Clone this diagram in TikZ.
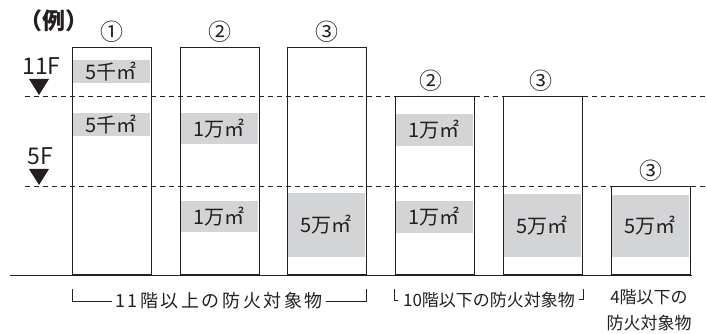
\documentclass[tikz,border=0pt]{standalone}
\usepackage{fontspec}
\setmainfont{Noto Sans CJK JP}
\newfontfamily\widejp[LetterSpace=14]{Noto Sans CJK JP}
\usetikzlibrary{positioning}
\definecolor{bandgray}{RGB}{211,212,214}
\definecolor{ink}{RGB}{35,31,32}

\begin{document}
\begin{tikzpicture}[x=1pt,y=-1pt,
    bldg/.style={draw=ink,line width=0.8pt,minimum width=78.5pt,anchor=south west,inner sep=0pt},
    band/.style={fill=bandgray,minimum width=78pt,inner sep=0pt,text=ink,font=\fontsize{20}{20}\selectfont},
    num/.style={text=ink,font=\fontsize{23}{23}\selectfont,inner sep=0pt},
    floorlbl/.style={text=ink,font=\fontsize{23}{23}\selectfont,inner sep=0pt},
    level/.style={draw=ink,line width=0.7pt,dash pattern=on 5pt off 4pt},
    brk/.style={draw=ink,line width=0.7pt},
    lbl/.style={text=ink,inner sep=3pt}]
  \useasboundingbox (0,0) rectangle (707,334);

  % grey floor areas
  \node[band,minimum height=23pt] (a1u) at (111.25,71.5) {5千㎡};
  \node[band,minimum height=23pt] (a1l) at (111.25,124.5) {5千㎡};
  \node[band,minimum height=31pt] (a2u) at (219.25,128.5) {1万㎡};
  \node[band,minimum height=31pt] (a2l) at (219.25,216.5) {1万㎡};
  \node[band,minimum height=64pt] (a3) at (326.25,225) {5万㎡};
  \node[band,minimum height=32pt] (a4u) at (434.25,130) {1万㎡};
  \node[band,minimum height=32pt] (a4l) at (434.25,217) {1万㎡};
  \node[band,minimum height=63pt] (a5) at (542.25,225.5) {5万㎡};
  \node[band,minimum height=62pt] (a6) at (650.25,226) {5万㎡};

  % buildings
  \node[bldg,minimum height=227pt] (b1) at (72,275) {};
  \node[bldg,minimum height=227pt] (b2) at (180,275) {};
  \node[bldg,minimum height=227pt] (b3) at (287,275) {};
  \node[bldg,minimum height=178pt] (b4) at (395,275) {};
  \node[bldg,minimum height=178pt] (b5) at (503,275) {};
  \node[bldg,minimum height=88pt] (b6) at (611,275) {};

  \node[num,above=5pt of b1] (n1) {①};
  \node[num,above=5pt of b2] (n2) {②};
  \node[num,above=5pt of b3] (n3) {③};
  \node[num,above=5pt of b4,xshift=-4pt] (n4) {②};
  \node[num,above=5pt of b5,xshift=-2pt] (n5) {③};
  \node[num,above=5pt of b6] (n6) {③};

  % floor levels
  \coordinate (u0) at (25,96.5);
  \coordinate (u1) at (707,96.5);
  \coordinate (m0) at (25,186);
  \coordinate (m1) at (707,186);
  \draw[level] (u0) -- (u1);
  \draw[level] (m0) -- (m1);

  \node[floorlbl] (f11) at (41.5,66) {11F};
  \node[floorlbl] (f5) at (40,156) {5F};
  \fill[ink] (29,79) -- (49,79) -- (39,95) -- cycle;
  \fill[ink] (29,169) -- (49,169) -- (39,185) -- cycle;

  \node[text=ink,font=\fontsize{23}{23}\selectfont\bfseries] (ex) at (54,21) {（例）};

  % ground
  \coordinate (g0) at (10,275);
  \coordinate (g1) at (692,275);
  \draw[brk,line width=0.8pt] (g0) -- (g1);

  % groups
  \node[lbl,font=\widejp\fontsize{18}{18}\selectfont] (low11) at (219,301) {11階以上の防火対象物};
  \coordinate (k1) at (72,289);
  \coordinate (k2) at (366,289);
  \draw[brk] (k1) |- (low11.west);
  \draw[brk] (low11.east) -| (k2);

  \node[lbl,font=\fontsize{17}{17}\selectfont] (low10) at (489,300) {10階以下の防火対象物};
  \draw[brk] (394,289) |- (398,300);
  \draw[brk] (583,289) |- (579,299);

  \node[lbl,align=center,font=\fontsize{17}{26}\selectfont] (low4) at (649,310) {4階以下の\\防火対象物};
\end{tikzpicture}
\end{document}
